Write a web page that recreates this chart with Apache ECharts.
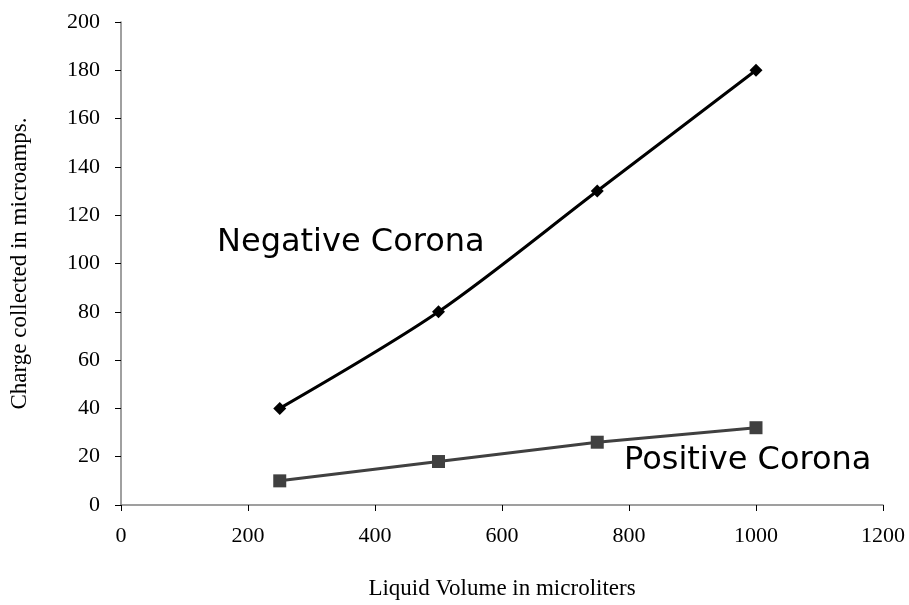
<!DOCTYPE html>
<html>
<head>
<meta charset="utf-8">
<script src="https://cdn.jsdelivr.net/npm/echarts@6/dist/echarts.min.js"></script>
<style>
html,body{margin:0;padding:0;background:#fff;}
#chart{width:909px;height:605px;}
</style>
</head>
<body>
<div id="chart"></div>
<script>
var volumes = [250, 500, 750, 1000];
var negativeCorona = [40, 80, 130, 180];
var positiveCorona = [10, 18, 26, 32];
var xTicks = [0, 200, 400, 600, 800, 1000, 1200];
var yTicks = [0, 20, 40, 60, 80, 100, 120, 140, 160, 180, 200];

function pairs(xs, ys){ return xs.map(function(x,i){ return [x, ys[i]]; }); }

var chart = echarts.init(document.getElementById('chart'));
var serif = '"Liberation Serif", "Times New Roman", serif';
var sans = '"DejaVu Sans", Verdana, sans-serif';
chart.setOption({
  animation: false,
  backgroundColor: '#fff',
  grid: {left: 119, right: 26, top: 22, bottom: 94, containLabel: false},
  xAxis: {
    type: 'value', min: xTicks[0], max: xTicks[xTicks.length-1], interval: 200,
    name: 'Liquid Volume in microliters', nameLocation: 'middle', nameGap: 72,
    nameTextStyle: {fontFamily: serif, fontSize: 23, color: '#000', verticalAlign: 'top'},
    axisLine: {show: true, lineStyle: {color: '#808080', width: 1.5}},
    axisTick: {show: true, length: 6, lineStyle: {color: '#000'}},
    axisLabel: {fontFamily: serif, fontSize: 22, color: '#000', margin: 20, formatter: function(v){ return String(v); }},
    splitLine: {show: false}
  },
  yAxis: {
    type: 'value', min: yTicks[0], max: yTicks[yTicks.length-1], interval: 20,
    name: 'Charge collected in microamps.', nameLocation: 'middle', nameGap: 90,
    nameTextStyle: {fontFamily: serif, fontSize: 23, color: '#000', verticalAlign: 'bottom'},
    axisLine: {show: true, lineStyle: {color: '#808080', width: 1.5}},
    axisTick: {show: true, length: 6, lineStyle: {color: '#000'}},
    axisLabel: {fontFamily: serif, fontSize: 22, color: '#000', margin: 21, formatter: function(v){ return String(v); }},
    splitLine: {show: false}
  },
  series: [
    {
      type: 'line', name: 'Negative Corona', data: pairs(volumes, negativeCorona),
      smooth: 0.3, symbol: 'diamond', symbolSize: 13,
      lineStyle: {color: '#000', width: 3},
      itemStyle: {color: '#000'}
    },
    {
      type: 'line', name: 'Positive Corona', data: pairs(volumes, positiveCorona),
      smooth: false, symbol: 'rect', symbolSize: 13,
      lineStyle: {color: '#404040', width: 3},
      itemStyle: {color: '#404040'}
    }
  ],
  graphic: [
    {type: 'text', x: 217, y: 243, style: {text: 'Negative Corona', fontFamily: sans, fontSize: 32, fill: '#000', verticalAlign: 'middle'}},
    {type: 'text', x: 624, y: 461, style: {text: 'Positive Corona', fontFamily: sans, fontSize: 32, fill: '#000', verticalAlign: 'middle'}}
  ]
});
</script>
</body>
</html>
